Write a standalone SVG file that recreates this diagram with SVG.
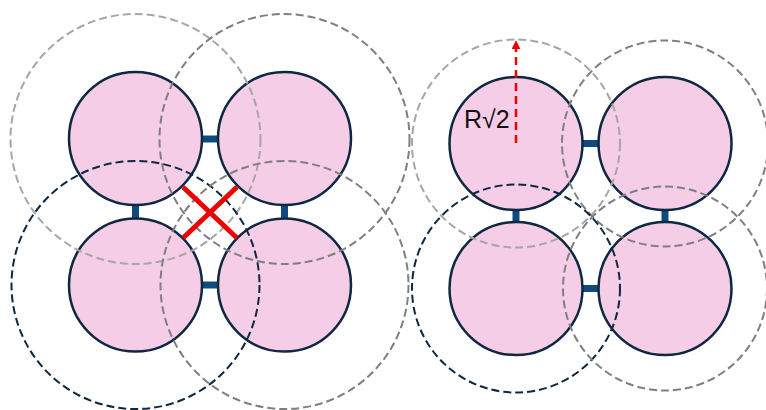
<svg xmlns="http://www.w3.org/2000/svg" width="766" height="410" viewBox="0 0 766 410">
<defs>
<style>
.node{fill:#f5cde7;stroke:#0e2841;stroke-width:2.5}
.link{stroke:#0f4c7d;stroke-width:7;fill:none}
.rng{fill:none;stroke-width:2;stroke-dasharray:8 4}
.lg{stroke:#a6a6a6}
.mg{stroke:#7f7f7f}
.nv{stroke:#0e2841}
.cross{stroke:#ee0000;stroke-width:5;fill:none}
.lbl{font-family:"Liberation Sans",Arial,sans-serif;font-size:25px;fill:#111}
</style>
<marker id="ah" viewBox="0 0 10 10" refX="8" refY="5" markerWidth="3.6" markerHeight="3.6" orient="auto" markerUnits="strokeWidth">
<path d="M0,0 L10,5 L0,10 Z" fill="#ee0000"/>
</marker>
</defs>
<rect width="766" height="410" fill="#ffffff"/>
<g id="connectors">
<line class="link" x1="200" y1="139" x2="220" y2="139"/>
<line class="link" x1="200" y1="285" x2="220" y2="285"/>
<line class="link" x1="135.5" y1="203" x2="135.5" y2="220"/>
<line class="link" x1="284.5" y1="203" x2="284.5" y2="220"/>
<line class="link" x1="581" y1="143.5" x2="600" y2="143.5"/>
<line class="link" x1="581" y1="288.5" x2="600" y2="288.5"/>
<line class="link" x1="516" y1="208" x2="516" y2="224"/>
<line class="link" x1="665" y1="208" x2="665" y2="224"/>
</g>
<g id="left-a"><circle class="node" cx="135.5" cy="138.5" r="66.5"/></g>
<g id="left-b"><circle class="node" cx="284.5" cy="138.5" r="66.5"/></g>
<g id="left-c"><circle class="node" cx="135.5" cy="285" r="66.5"/></g>
<g id="left-d"><circle class="node" cx="284.5" cy="285" r="66.5"/></g>
<g id="right-a"><circle class="node" cx="516" cy="143.5" r="66.5"/></g>
<g id="right-b"><circle class="node" cx="665" cy="143.5" r="66.5"/></g>
<g id="right-c"><circle class="node" cx="516" cy="288.5" r="66.5"/></g>
<g id="right-d"><circle class="node" cx="665" cy="288.5" r="66.5"/></g>
<g id="ranges">
<circle class="rng lg" cx="135.5" cy="139" r="125"/>
<circle class="rng mg" cx="284.5" cy="139" r="125"/>
<circle class="rng nv" cx="135.5" cy="285" r="124"/>
<circle class="rng mg" cx="284.5" cy="285" r="124"/>
<circle class="rng lg" cx="516" cy="143.5" r="104"/>
<circle class="rng mg" cx="665" cy="143.5" r="103"/>
<circle class="rng nv" cx="516" cy="288.5" r="104"/>
<circle class="rng mg" cx="665" cy="288.5" r="102"/>
</g>
<g id="cross">
<line class="cross" x1="183" y1="187" x2="237" y2="238"/>
<line class="cross" x1="237" y1="187" x2="183" y2="238"/>
</g>
<g id="radius">
<line x1="516" y1="143" x2="516" y2="42" stroke="#ee0000" stroke-width="2.5" stroke-dasharray="8 5" marker-end="url(#ah)"/>
<text class="lbl" x="464" y="128">R√2</text>
</g>
</svg>
